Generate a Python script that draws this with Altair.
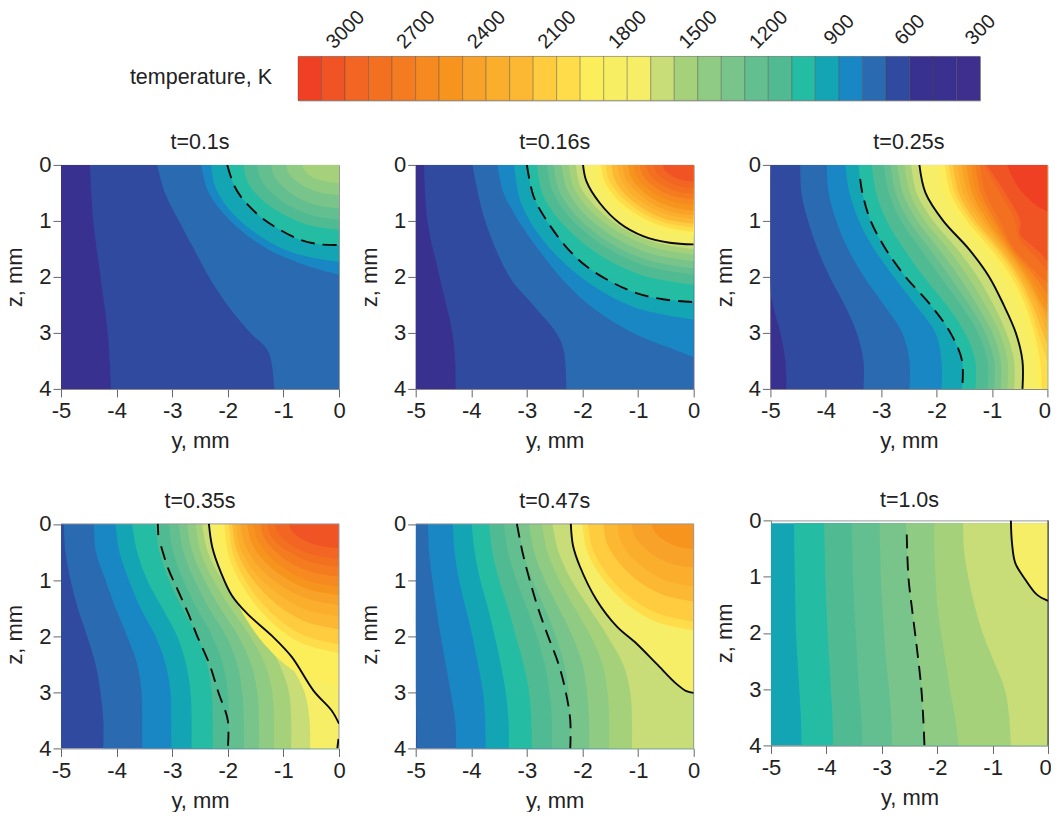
import altair as alt
import pandas as pd

FONT = "Liberation Sans"
FS = 22
PALETTE = ["#EF4023", "#F15424", "#F26522", "#F37021", "#F47B20", "#F6891F", "#F7941D", "#F9A229",
           "#FBAE2C", "#FCB733", "#FFCB3F", "#FFDD4A", "#FCEE5B", "#F7EE63", "#F6EE66", "#C8DC78",
           "#A5D17A", "#8FCB82", "#78C48A", "#63BF8F", "#50BB92", "#25BCA4", "#14A5B5", "#1A87C5",
           "#2A6AB1", "#2F4A9F", "#38318F", "#39308F", "#3E2F8F"]
BAND_IDS = list(range(29))
BAR_TOP = [3200 - 100 * i for i in BAND_IDS]
TICKS = [3000, 2700, 2400, 2100, 1800, 1500, 1200, 900, 600, 300]
TITLES = ["t=0.1s", "t=0.16s", "t=0.25s", "t=0.35s", "t=0.47s", "t=1.0s"]
G = [0, .5, 1, 1.5, 2, 2.5, 3, 3.5, 4]
G6 = [.05, .5, 1, 1.5, 2, 2.5, 3, 3.5, 4]

# ---- contours: (band, z values in mm, y values in mm) ----
D1 = ([0, .36, .6, .93, 1.13, 1.34, 1.42, 1.43], [-2.01, -1.89, -1.74, -1.41, -1.11, -.69, -.33, 0])
P1 = [
    (26, [0, 4], [-5, -5]),
    (25, [0, 1, 2, 3, 4], [-4.48, -4.42, -4.29, -4.16, -4.10]),
    (24, [0, .5, 1, 1.5, 2, 2.5, 3, 3.3, 3.5, 4], [-3.27, -3.13, -2.88, -2.61, -2.34, -2.01, -1.59, -1.29, -1.22, -1.16]),
    (23, [0, .5, 1, 1.5, 1.8, 1.96], [-2.48, -2.34, -1.95, -1.29, -.57, 0]),
    (22, [0, .43, .87, 1.3, 1.59, 1.73], [-2.3, -2.21, -1.91, -1.38, -.76, 0]),
    (21, D1[0], D1[1]),
    (20, [0, .29, .58, .87, 1.07, 1.16], [-1.72, -1.65, -1.43, -1.03, -.57, 0]),
    (19, [0, .25, .49, .74, .9, .98], [-1.47, -1.41, -1.22, -.88, -.49, 0]),
    (18, [0, .2, .39, .59, .72, .78], [-1.22, -1.17, -1.01, -.73, -.4, 0]),
    (17, [0, .14, .27, .41, .5, .54], [-.95, -.91, -.79, -.57, -.31, 0]),
    (16, [0, .08, .17, .25, .3, .33], [-.66, -.63, -.55, -.4, -.22, 0]),
]
P1_SOLID = []
P1_DASH = [D1]

D2 = ([0, .56, 1.0, 1.48, 1.81, 2.08, 2.29, 2.4, 2.45], [-3.0, -2.88, -2.64, -2.28, -1.93, -1.5, -1.03, -.55, 0])
S2 = ([0, .29, .68, 1.04, 1.27, 1.39, 1.42], [-1.99, -1.93, -1.69, -1.33, -.91, -.43, 0])
P2 = [
    (26, [0, 4], [-5, -5]),
    (25, [0, 1, 2, 3, 3.5, 4], [-4.85, -4.79, -4.57, -4.34, -4.29, -4.28]),
    (24, [0, 1, 2, 2.5, 3, 3.3, 4], [-3.98, -3.75, -3.31, -2.89, -2.47, -2.34, -2.29]),
    (23, [0, .5, 1, 1.5, 2, 2.5, 3, 3.3, 3.43], [-3.53, -3.42, -3.15, -2.8, -2.4, -1.88, -1.09, -.34, 0]),
    (22, [0, .69, 1.38, 2.07, 2.54, 2.76], [-3.23, -3.1, -2.68, -1.94, -1.07, 0]),
    (21, D2[0], D2[1]),
    (20, [0, .54, 1.07, 1.61, 1.97, 2.14], [-2.82, -2.71, -2.34, -1.69, -.93, 0]),
    (19, [0, .49, .98, 1.47, 1.8, 1.96], [-2.64, -2.53, -2.19, -1.58, -.87, 0]),
    (18, [0, .46, .93, 1.39, 1.7, 1.85], [-2.52, -2.42, -2.09, -1.51, -.83, 0]),
    (17, [0, .43, .86, 1.29, 1.58, 1.72], [-2.38, -2.28, -1.98, -1.43, -.79, 0]),
    (16, [0, .4, .8, 1.2, 1.47, 1.6], [-2.25, -2.16, -1.87, -1.35, -.74, 0]),
    (15, [0, .38, .75, 1.13, 1.38, 1.5], [-2.12, -2.04, -1.76, -1.27, -.7, 0]),
    (14, S2[0], S2[1]),
    (13, [0, .33, .65, .98, 1.2, 1.3], [-1.85, -1.78, -1.54, -1.11, -.61, 0]),
    (12, [0, .31, .63, .94, 1.15, 1.25], [-1.75, -1.68, -1.45, -1.05, -.58, 0]),
    (11, [0, .3, .6, .9, 1.1, 1.2], [-1.67, -1.6, -1.39, -1, -.55, 0]),
    (10, [0, .28, .56, .84, 1.03, 1.12], [-1.58, -1.52, -1.31, -.95, -.52, 0]),
    (9, [0, .26, .53, .79, .97, 1.05], [-1.48, -1.42, -1.23, -.89, -.49, 0]),
    (8, [0, .24, .49, .73, .89, .97], [-1.38, -1.32, -1.15, -.83, -.46, 0]),
    (7, [0, .23, .45, .68, .83, .9], [-1.28, -1.23, -1.06, -.77, -.42, 0]),
    (6, [0, .21, .41, .62, .75, .82], [-1.18, -1.13, -.98, -.71, -.39, 0]),
    (5, [0, .18, .36, .54, .66, .72], [-1.08, -1.04, -.9, -.65, -.36, 0]),
    (4, [0, .16, .31, .47, .57, .62], [-.97, -.93, -.81, -.58, -.32, 0]),
    (3, [0, .13, .26, .39, .48, .52], [-.85, -.82, -.71, -.51, -.28, 0]),
    (2, [0, .11, .21, .32, .39, .42], [-.72, -.69, -.6, -.43, -.24, 0]),
    (1, [0, .08, .15, .23, .28, .3], [-.55, -.53, -.46, -.33, -.18, 0]),
]
P2_SOLID = [S2]
P2_DASH = [D2]

D3 = [-3.41, -3.34, -3.19, -2.92, -2.56, -2.11, -1.75, -1.54, -1.54]
S3 = [-2.31, -2.2, -1.88, -1.42, -1.05, -.79, -.57, -.45, -.45]
P3 = [
    (26, [0, 4], [-5, -5]),
    (25, [0, 2.2, 2.6, 3, 3.5, 4], [-5, -5, -4.93, -4.82, -4.73, -4.71]),
    (24, G, [-4.46, -4.44, -4.32, -4.15, -3.93, -3.66, -3.44, -3.32, -3.32]),
    (23, G, [-3.98, -3.95, -3.81, -3.6, -3.31, -2.95, -2.62, -2.49, -2.49]),
    (22, G, [-3.65, -3.57, -3.4, -3.13, -2.77, -2.38, -2.02, -1.91, -1.91]),
    (21, G, D3),
    (20, G, [-3.17, -3.09, -2.9, -2.59, -2.23, -1.82, -1.49, -1.3, -1.3]),
    (19, G, [-2.95, -2.86, -2.64, -2.29, -1.93, -1.56, -1.25, -1.08, -1.08]),
    (18, G, [-2.83, -2.74, -2.5, -2.12, -1.76, -1.41, -1.12, -.96, -.96]),
    (17, G, [-2.71, -2.61, -2.35, -1.96, -1.59, -1.27, -.99, -.84, -.84]),
    (16, G, [-2.58, -2.48, -2.21, -1.79, -1.43, -1.12, -.86, -.72, -.72]),
    (15, G, [-2.46, -2.36, -2.06, -1.63, -1.26, -.97, -.74, -.6, -.6]),
    (14, G, S3),
    (13, G, [-2.05, -1.95, -1.65, -1.22, -.85, -.6, -.42, -.32, -.3]),
    (12, G, [-1.95, -1.85, -1.55, -1.12, -.75, -.5, -.33, -.22, -.2]),
    (11, G, [-1.85, -1.75, -1.45, -1.02, -.65, -.4, -.24, -.13, -.1]),
    (10, [0, .5, 1, 1.5, 2, 2.5, 3, 3.5], [-1.78, -1.67, -1.37, -.93, -.58, -.33, -.17, 0]),
    (9, [0, .5, 1, 1.5, 2, 2.5, 3, 3.2], [-1.7, -1.6, -1.3, -.87, -.52, -.27, -.08, 0]),
    (8, [0, .5, 1, 1.5, 2, 2.5, 3], [-1.62, -1.52, -1.22, -.82, -.47, -.2, 0]),
    (7, [0, .5, 1, 1.5, 2, 2.5, 2.8], [-1.54, -1.44, -1.15, -.77, -.42, -.14, 0]),
    (6, [0, .5, 1, 1.5, 2, 2.5, 2.65], [-1.46, -1.36, -1.08, -.72, -.37, -.09, 0]),
    (5, [0, .5, 1, 1.5, 2, 2.5], [-1.38, -1.28, -1, -.68, -.3, 0]),
    (4, [0, .5, 1, 1.5, 2, 2.3], [-1.3, -1.2, -.94, -.64, -.22, 0]),
    (3, [0, .5, 1, 1.5, 2, 2.1], [-1.22, -1.12, -.86, -.6, -.12, 0]),
    (2, [0, .5, 1, 1.3, 1.6, 1.9], [-1.15, -.85, -.58, -.52, -.25, 0]),
    (1, [0, .41, 1.0, 1.24, 1.54, 1.72], [-1.09, -.82, -.49, -.49, -.16, 0]),
    (0, [0, .41, .71, .83], [-.73, -.52, -.22, 0]),
]
P3_SOLID = [(G, S3)]
P3_DASH = [([.25, .5, 1, 1.5, 2, 2.5, 3, 3.5, 4], [-3.38, -3.34, -3.19, -2.92, -2.56, -2.11, -1.75, -1.54, -1.54])]

S4 = ([0, .41, .85, 1.27, 1.6, 2.0, 2.37, 2.97, 3.33, 3.56], [-2.34, -2.28, -2.13, -1.93, -1.65, -1.2, -.85, -.46, -.13, 0])
P4 = [
    (25, [0, 4], [-5, -5]),
    (24, G, [-4.95, -4.92, -4.83, -4.7, -4.53, -4.38, -4.29, -4.24, -4.24]),
    (23, G, [-4.41, -4.37, -4.2, -4.02, -3.81, -3.63, -3.55, -3.54, -3.54]),
    (22, G, [-4.02, -3.95, -3.78, -3.57, -3.3, -3.12, -3.03, -3.02, -3.01]),
    (21, G, [-3.72, -3.63, -3.45, -3.18, -2.91, -2.75, -2.67, -2.65, -2.65]),
    (20, G, [-3.3, -3.23, -3.06, -2.82, -2.55, -2.37, -2.29, -2.27, -2.27]),
    (19, G, [-3.06, -2.98, -2.8, -2.56, -2.28, -2.09, -2.0, -1.98, -1.97]),
    (18, G, [-2.88, -2.8, -2.6, -2.34, -2.03, -1.83, -1.74, -1.71, -1.71]),
    (17, G, [-2.73, -2.64, -2.42, -2.14, -1.81, -1.58, -1.47, -1.44, -1.44]),
    (16, G, [-2.58, -2.49, -2.26, -1.95, -1.6, -1.33, -1.2, -1.17, -1.17]),
    (15, G, [-2.46, -2.36, -2.1, -1.75, -1.37, -1.07, -.9, -.86, -.86]),
    (14, G, [-2.36, -2.26, -2.03, -1.7, -1.24, -.88, -.62, -.53, -.52]),
    (13, S4[0], S4[1]),
    (12, [0, .73, 1.45, 2.18, 2.67, 2.9], [-2.18, -2.09, -1.81, -1.31, -.72, 0]),
    (11, [0, .58, 1.15, 1.73, 2.12, 2.3], [-2.06, -1.98, -1.71, -1.24, -.68, 0]),
    (10, [0, .54, 1.08, 1.61, 1.98, 2.15], [-1.98, -1.9, -1.64, -1.19, -.65, 0]),
    (9, [0, .47, .94, 1.41, 1.73, 1.88], [-1.92, -1.84, -1.59, -1.15, -.63, 0]),
    (8, [0, .41, .83, 1.24, 1.52, 1.65], [-1.85, -1.78, -1.54, -1.11, -.61, 0]),
    (7, [0, .36, .73, 1.09, 1.33, 1.45], [-1.77, -1.7, -1.47, -1.06, -.58, 0]),
    (6, [0, .32, .64, .95, 1.17, 1.27], [-1.65, -1.58, -1.37, -.99, -.54, 0]),
    (5, [0, .28, .56, .84, 1.03, 1.12], [-1.53, -1.47, -1.27, -.92, -.5, 0]),
    (4, [0, .24, .47, .71, .86, .94], [-1.41, -1.35, -1.17, -.85, -.47, 0]),
    (3, [0, .19, .38, .57, .7, .76], [-1.29, -1.24, -1.07, -.77, -.43, 0]),
    (2, [0, .16, .31, .47, .57, .62], [-1.15, -1.1, -.95, -.69, -.38, 0]),
    (1, [0, .11, .22, .33, .4, .44], [-.9, -.86, -.75, -.54, -.3, 0]),
]
P4_SOLID = [S4, ([3.83, 4], [-.01, -.03])]
P4_DASH = [([0, .2], [-3.26, -3.25]),
           ([.4, .8, 1.2, 1.6, 2, 2.5, 3, 3.5, 4], [-3.2, -3.07, -2.89, -2.71, -2.55, -2.33, -2.17, -2.0, -2.0])]

S5 = ([0, .39, .75, 1.35, 1.83, 2.13, 2.49, 2.85, 2.98, 3.01], [-2.21, -2.17, -2.05, -1.75, -1.38, -1.03, -.67, -.31, -.13, 0])
P5 = [
    (25, [0, 4], [-5, -5]),
    (24, [0, 3, 3.5, 4], [-5, -5, -4.99, -4.98]),
    (23, G, [-4.78, -4.76, -4.7, -4.63, -4.55, -4.46, -4.37, -4.29, -4.27]),
    (22, G, [-4.33, -4.3, -4.22, -4.1, -3.98, -3.88, -3.79, -3.75, -3.74]),
    (21, G, [-3.99, -3.94, -3.84, -3.7, -3.58, -3.47, -3.38, -3.33, -3.32]),
    (20, G, [-3.68, -3.62, -3.5, -3.34, -3.2, -3.06, -2.96, -2.92, -2.91]),
    (19, G, [-3.41, -3.34, -3.19, -3.0, -2.82, -2.68, -2.59, -2.55, -2.55]),
    (18, G, [-3.15, -3.07, -2.9, -2.68, -2.48, -2.33, -2.25, -2.22, -2.22]),
    (17, G, [-2.96, -2.87, -2.68, -2.43, -2.18, -2.0, -1.92, -1.88, -1.88]),
    (16, G, [-2.73, -2.63, -2.42, -2.14, -1.85, -1.64, -1.55, -1.52, -1.52]),
    (15, G, [-2.54, -2.43, -2.2, -1.88, -1.55, -1.27, -1.14, -1.11, -1.11]),
    (14, S5[0], S5[1]),
    (11, [0, .48, .95, 1.43, 1.75, 1.9], [-2.0, -1.92, -1.66, -1.2, -.66, 0]),
    (10, [0, .44, .87, 1.31, 1.6, 1.74], [-1.9, -1.82, -1.58, -1.14, -.63, 0]),
    (9, [0, .35, .69, 1.04, 1.27, 1.38], [-1.62, -1.56, -1.34, -.97, -.53, 0]),
    (8, [0, .28, .56, .83, 1.02, 1.11], [-1.38, -1.32, -1.15, -.83, -.46, 0]),
    (7, [0, .2, .39, .59, .72, .78], [-1.11, -1.07, -.92, -.67, -.37, 0]),
    (6, [0, .11, .23, .34, .41, .45], [-.75, -.72, -.62, -.45, -.25, 0]),
]
P5_SOLID = [S5]
P5_DASH = [([0, .5, 1, 1.5, 2, 2.5, 3, 3.5, 4], [-3.18, -3.08, -2.95, -2.8, -2.62, -2.43, -2.3, -2.22, -2.22])]

S6 = ([0, .4, .76, 1.05, 1.32, 1.43], [-.67, -.65, -.59, -.41, -.2, 0])
D6 = ([.25, 1, 1.53, 2.24, 2.95, 3.55, 4], [-2.55, -2.52, -2.46, -2.37, -2.29, -2.25, -2.23])
P6 = [
    (22, [.05, 4], [-5, -5]),
    (21, G6, [-4.58, -4.58, -4.57, -4.56, -4.55, -4.52, -4.49, -4.46, -4.45]),
    (20, G6, [-4.04, -4.03, -4.02, -4, -3.98, -3.95, -3.92, -3.89, -3.88]),
    (19, G6, [-3.54, -3.53, -3.52, -3.5, -3.47, -3.44, -3.41, -3.37, -3.35]),
    (18, G6, [-3.04, -3.03, -3.02, -2.99, -2.96, -2.92, -2.87, -2.83, -2.81]),
    (17, [.05, 1, 1.53, 2.24, 2.95, 3.55, 4], [-2.56, -2.52, -2.46, -2.37, -2.29, -2.25, -2.23]),
    (16, G6, [-2.05, -2.05, -2.03, -2.0, -1.93, -1.85, -1.77, -1.68, -1.61]),
    (15, G6, [-1.53, -1.52, -1.44, -1.33, -1.18, -.98, -.78, -.7, -.67]),
    (14, [.05, .4, .76, 1.05, 1.32, 1.43], [-.67, -.65, -.59, -.41, -.2, 0]),
]
P6_SOLID = [S6]
P6_DASH = [D6]
FRAME_RIGHT = ([0, 4], [0, 0])
FRAME_TOP = ([0, 0], [-5, 0])
Z_TICKS = [0, 1, 2, 3, 4]
Y_TICKS = [-5, -4, -3, -2, -1, 0]
Z_DOMAIN_TOP = [0, 4]
Z_DOMAIN_LOW = [-.0625, 4]


def bands_df(bands):
    rows = []
    for order, (band, zs, ys) in enumerate(bands):
        rows += [{"band": band, "ord": order, "z": z, "y": y, "y0": 0} for z, y in zip(zs, ys)]
    return pd.DataFrame(rows)


def lines_df(lines):
    rows = []
    for seg, (zs, ys) in enumerate(lines):
        rows += [{"seg": seg, "i": i, "z": z, "y": y} for i, (z, y) in enumerate(zip(zs, ys))]
    return pd.DataFrame(rows)


AXIS_STYLE = dict(tickSize=8, grid=False, labelFontSize=FS, titleFontSize=FS, titleFontWeight="normal",
                  labelColor="#222", titleColor="#222", tickColor="#666", domainColor="#888",
                  labelFlush=False, labelOverlap=False)


def x_enc(last_col):
    extra = {"labelOffset": {"condition": {"test": "datum.value === 0", "value": -3}, "value": 0}} if last_col else {}
    return alt.X("y:Q", scale=alt.Scale(domain=[-5, 0], nice=False, zero=False),
                 axis=alt.Axis(values=Y_TICKS, labelExpr="'' + datum.value", title="y, mm",
                               labelPadding=4, titlePadding=9, **AXIS_STYLE, **extra))


def z_enc(domain, show_domain):
    return alt.Y("z:Q", scale=alt.Scale(domain=domain, reverse=True, nice=False, zero=False),
                 axis=alt.Axis(values=Z_TICKS, format="d", title="z, mm", domain=show_domain,
                               labelPadding=2, titlePadding=12, **AXIS_STYLE))


def panel(bands, solids, dashes, title, edges=None, h=224, w=278, domain=Z_DOMAIN_TOP, stroke="#999", axis_line=True,
          edge_color="#999", offset=0, last_col=False):
    z_e = z_enc(domain, axis_line)
    x_e = x_enc(last_col)
    area = alt.Chart(bands_df(bands)).mark_area(orient="horizontal", interpolate="catmull-rom", clip=True).encode(
        x=x_e, x2="y0:Q", y=z_e,
        color=alt.Color("band:O", scale=alt.Scale(domain=BAND_IDS, range=PALETTE), legend=None),
        detail="ord:O")
    layers = [area]
    if edges:
        layers.append(alt.Chart(lines_df(edges)).mark_line(color=edge_color, strokeWidth=1).encode(
            x=x_e, y=z_e, detail="seg:O", order=alt.Order("i:Q")))
    for group, dash in ((solids, None), (dashes, [14, 8])):
        if not group:
            continue
        kw = {"strokeDash": dash} if dash else {}
        layers.append(alt.Chart(lines_df(group)).mark_line(
            interpolate="catmull-rom", color="#0a0a0a", strokeWidth=1.9, clip=True, **kw).encode(
            x=x_e, y=z_e, detail="seg:O", order=alt.Order("i:Q")))
    return alt.layer(*layers).properties(
        width=w, height=h, view=alt.ViewBackground(stroke=stroke),
        title=alt.TitleParams(title, fontSize=21.5, fontWeight="normal", color="#222", offset=offset))


def spacer(w=1, h=1):
    return alt.Chart(pd.DataFrame({"a": [0]})).mark_point(opacity=0).encode(
        x=alt.value(0), y=alt.value(0)).properties(width=w, height=h, view=alt.ViewBackground(stroke="transparent"))


bar_df = pd.DataFrame({"hi": BAR_TOP, "lo": [v - 100 for v in BAR_TOP], "band": BAND_IDS})
bar = alt.Chart(bar_df).mark_rect(stroke="#444", strokeWidth=0.5, strokeOpacity=0.7).encode(
    x=alt.X("hi:Q", scale=alt.Scale(domain=[3200, 300], nice=False, zero=False),
            axis=alt.Axis(orient="top", values=TICKS, format="d", title=None, domain=False, ticks=False, grid=False,
                          labelAngle=-45, labelAlign="center", labelBaseline="middle", labelPadding=27,
                          labelFontSize=20, labelColor="#222", labelFlush=False, labelOverlap=False)),
    x2="lo:Q",
    color=alt.Color("band:O", scale=alt.Scale(domain=BAND_IDS, range=PALETTE), legend=None),
)
bar_label = alt.Chart(pd.DataFrame({"t": ["temperature, K"]})).mark_text(
    align="right", baseline="middle", fontSize=21.5, color="#222").encode(
    text="t:N", x=alt.value(-26), y=alt.value(22))
colorbar = alt.layer(bar, bar_label).properties(width=682, height=44, view=alt.ViewBackground(stroke="#999"))

LOW = dict(h=228, domain=Z_DOMAIN_LOW, stroke="transparent", axis_line=False, edges=[FRAME_TOP, FRAME_RIGHT])
p1 = panel(P1, P1_SOLID, P1_DASH, TITLES[0])
p2 = panel(P2, P2_SOLID, P2_DASH, TITLES[1])
p3 = panel(P3, P3_SOLID, P3_DASH, TITLES[2], w=277, last_col=True)
p4 = panel(P4, P4_SOLID, P4_DASH, TITLES[3], **LOW)
p5 = panel(P5, P5_SOLID, P5_DASH, TITLES[4], **LOW)
p6 = panel(P6, P6_SOLID, P6_DASH, TITLES[5], edges=[FRAME_RIGHT], h=225, w=277, edge_color="#333", offset=-2,
           last_col=True)

top = alt.hconcat(spacer(), colorbar, spacing=236, bounds="flush")
row1 = alt.hconcat(p1, p2, p3, spacing=76.7, bounds="flush")
row2_left = alt.hconcat(p4, p5, spacing=76.7, bounds="flush")
row2 = alt.hconcat(row2_left, p6, spacing=12)
upper = alt.vconcat(top, row1, spacing=30.5)

chart = alt.vconcat(upper, row2, spacing=37).properties(
    padding={"left": -5, "top": -2.6, "right": -1, "bottom": 0}
).configure_axis(labelFont=FONT, titleFont=FONT).configure_title(font=FONT).configure_text(font=FONT)

chart.save("out.html", embed_options={"renderer": "svg", "actions": False})
